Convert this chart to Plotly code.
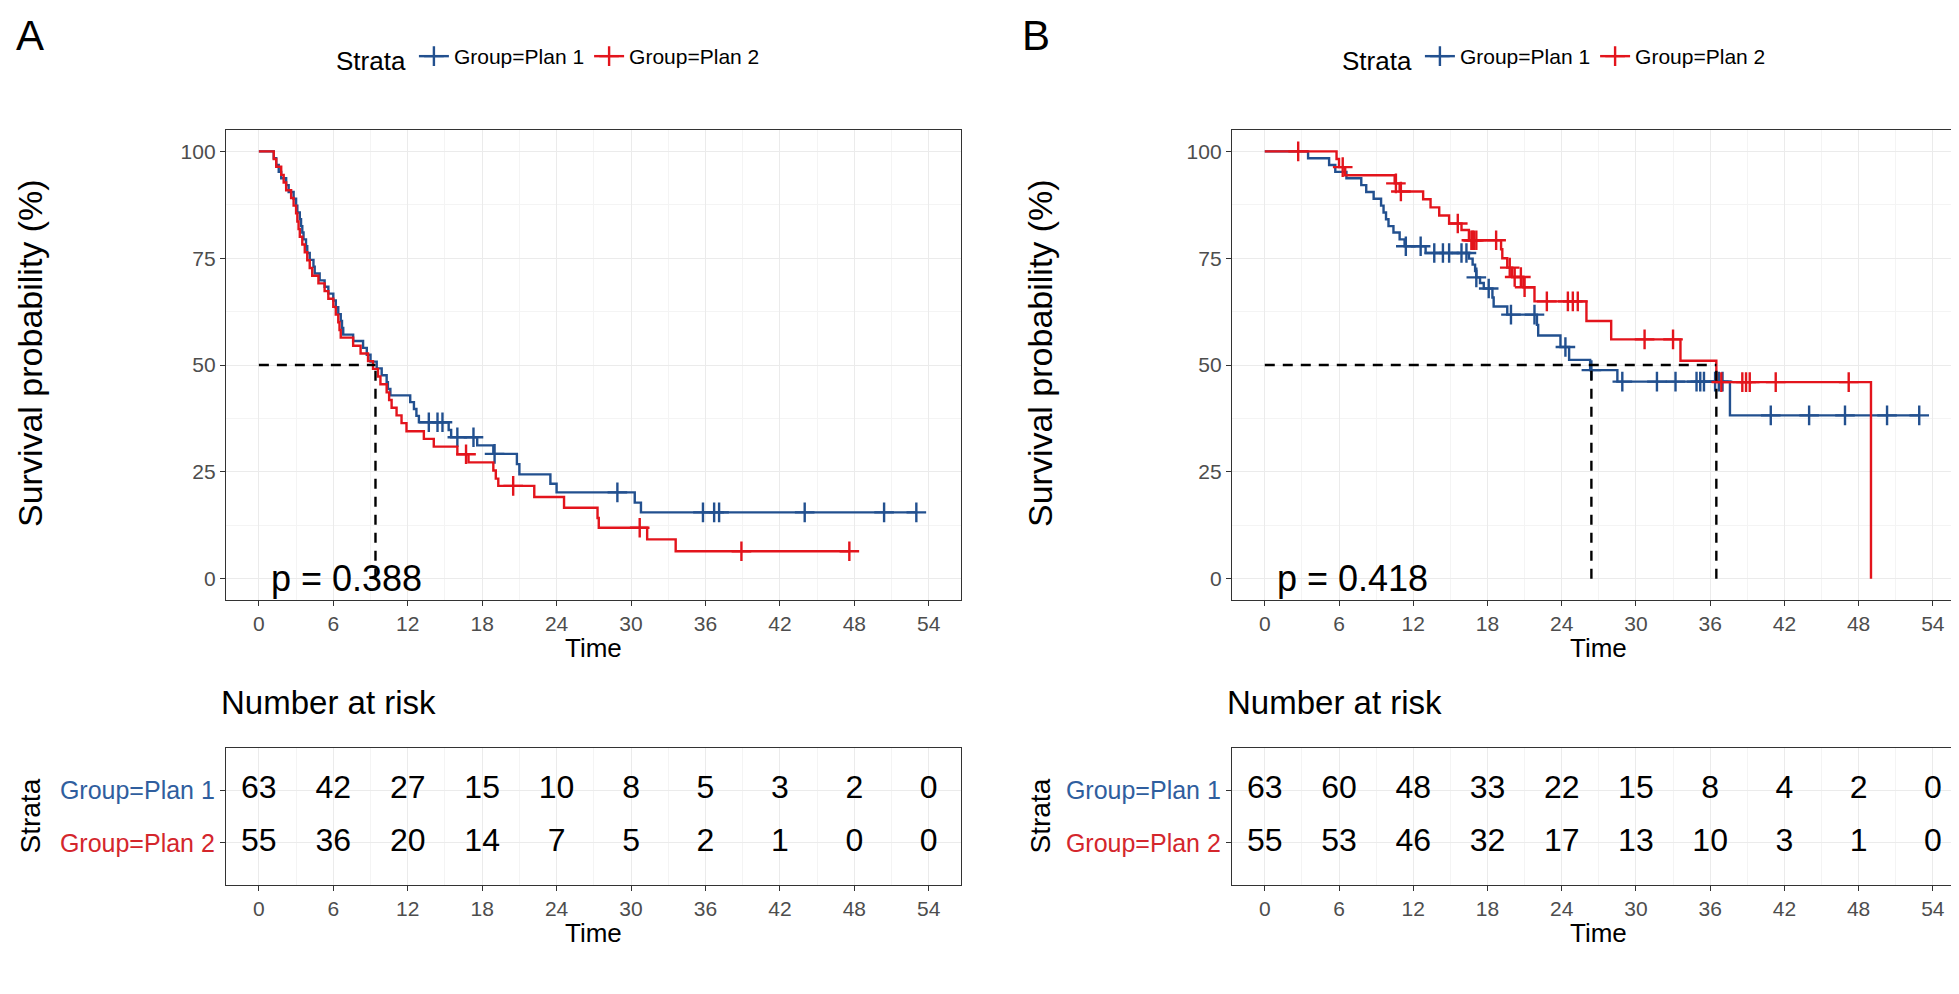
import plotly.graph_objects as go

# ---- data (time in months, survival in %) ----
time_ticks = [0, 6, 12, 18, 24, 30, 36, 42, 48, 54]
strata = ["Group=Plan 1", "Group=Plan 2"]

# Panel A
a_plan1_time = [0, 1.2, 1.4, 1.6, 1.8, 2.2, 2.4, 2.8, 3.0, 3.1, 3.3, 3.4, 3.5, 3.6, 3.8, 3.9,
                4.1, 4.4, 4.5, 4.9, 5.3, 5.6, 6.0, 6.2, 6.4, 6.6, 6.7, 6.8, 7.6, 8.4, 8.7,
                9.0, 9.5, 9.9, 10.3, 10.4, 10.6, 12.2, 12.5, 12.7, 12.9, 15.3, 15.5, 17.6,
                18.9, 20.8, 21.0, 23.5, 24.0, 30.3, 30.8, 53.0]
a_plan1_surv = [100, 98.4, 96.8, 95.2, 93.7, 92.1, 90.5, 88.9, 87.3, 85.7, 84.1, 82.5, 81.0,
                79.4, 77.8, 76.2, 74.6, 73.0, 71.4, 69.8, 68.3, 66.7, 65.1, 63.5, 61.9, 60.3,
                58.7, 57.1, 55.6, 54.0, 52.4, 50.8, 49.2, 47.6, 46.0, 44.4, 42.9, 41.3, 39.7,
                38.1, 36.6, 34.8, 33.1, 31.2, 29.2, 26.8, 24.4, 22.2, 20.2, 17.8, 15.5, 15.5]
a_plan1_censor = [13.7, 14.4, 14.8, 16.0, 17.3, 19.0, 28.9, 35.8, 36.7, 37.1, 44.0, 50.4, 53.0]

a_plan2_time = [0, 1.2, 1.4, 1.8, 2.0, 2.2, 2.6, 2.8, 3.0, 3.1, 3.2, 3.3, 3.5, 3.7, 3.9, 4.1,
                4.3, 4.8, 5.3, 5.6, 6.0, 6.2, 6.4, 6.5, 6.6, 7.6, 8.2, 8.8, 9.2, 9.6, 9.8,
                10.3, 10.5, 10.7, 11.1, 11.5, 11.9, 13.3, 14.1, 16.0, 16.9, 18.9, 19.1, 19.3,
                22.2, 24.6, 27.3, 27.4, 31.3, 33.6, 47.6]
a_plan2_surv = [100, 98.2, 96.4, 94.5, 92.7, 90.9, 89.1, 87.3, 85.5, 83.6, 81.8, 80.0, 78.2,
                76.4, 74.5, 72.7, 70.9, 69.1, 67.3, 65.5, 63.6, 61.8, 60.0, 58.2, 56.4, 54.5,
                52.7, 50.9, 49.1, 47.3, 45.5, 43.6, 41.8, 40.0, 38.2, 36.4, 34.5, 32.7, 30.9,
                29.1, 27.2, 25.3, 23.4, 21.7, 19.1, 16.6, 14.2, 11.9, 9.2, 6.4, 6.4]
a_plan2_censor = [16.7, 20.5, 30.7, 38.9, 47.6]

a_risk_plan1 = [63, 42, 27, 15, 10, 8, 5, 3, 2, 0]
a_risk_plan2 = [55, 36, 20, 14, 7, 5, 2, 1, 0, 0]
a_median = [9.4]
a_pval = "p = 0.388"

# Panel B
b_plan1_time = [0, 3.5, 5.2, 5.7, 6.6, 7.8, 8.2, 8.8, 9.4, 9.6, 9.8, 10.0, 10.4, 10.9, 11.3,
                13.0, 16.5, 16.8, 17.0, 17.1, 17.4, 17.7, 18.4, 18.5, 19.6, 22.0, 22.1, 23.9,
                24.6, 26.3, 28.5, 37.6, 52.9]
b_plan1_surv = [100, 98.4, 96.8, 95.2, 93.7, 92.1, 90.5, 88.9, 87.3, 85.7, 84.1, 82.5, 81.0,
                79.4, 77.8, 76.2, 74.9, 73.5, 72.0, 70.5, 69.2, 67.9, 65.8, 63.7, 61.8, 59.4,
                56.9, 54.2, 51.2, 48.8, 46.1, 38.2, 38.2]
b_plan1_censor = [11.4, 12.6, 13.7, 14.4, 14.9, 15.9, 16.3, 17.1, 18.1, 19.9, 21.8, 24.3, 26.4,
                  28.9, 31.7, 33.2, 34.9, 35.2, 35.5, 36.4, 36.7, 37.0, 40.9, 44.0, 46.9,
                  50.3, 52.9]

b_plan2_time = [0, 5.8, 6.0, 6.5, 10.5, 10.9, 12.8, 13.4, 14.1, 14.9, 15.9, 16.5, 19.1, 19.2,
                19.6, 20.0, 20.9, 21.8, 26.0, 28.0, 33.6, 36.5, 49.0]
b_plan2_surv = [100, 98.2, 96.3, 94.4, 92.5, 90.6, 88.8, 86.9, 85.0, 83.1, 81.6, 79.2, 77.1,
                75.0, 72.8, 70.6, 68.2, 64.9, 60.3, 56.0, 51.0, 46.0, 0]
b_plan2_censor = [2.7, 6.3, 10.6, 11.0, 15.6, 16.7, 16.8, 16.9, 17.1, 18.7, 19.8, 20.2, 20.7,
                  21.0, 22.8, 24.5, 24.9, 25.3, 30.7, 33.0, 36.9, 38.6, 38.9, 39.2, 41.3, 47.2]

b_risk_plan1 = [63, 60, 48, 33, 22, 15, 8, 4, 2, 0]
b_risk_plan2 = [55, 53, 46, 32, 17, 13, 10, 3, 1, 0]
b_median = [26.4, 36.5]
b_pval = "p = 0.418"

# ---- style ----
W, H = 1959, 994
BLUE = "#22508F"
RED = "#E3141C"
BLUE_TXT = "#2F5E9E"
RED_TXT = "#D4262C"
FONT = "Liberation Sans, Arial, sans-serif"
GRID = "#EBEBEB"


def fx(p):
    return p / W


def fy(p):
    return 1 - p / H


def surv_at(times, survs, t):
    s = survs[0]
    for ti, si in zip(times, survs):
        if ti <= t:
            s = si
    return s


panels = [
    dict(letter="A", left=218, right=953, main=("x", "y"), table=("x2", "y2"), legend="legend",
         curves=[(a_plan1_time, a_plan1_surv, a_plan1_censor, BLUE, strata[0]),
                 (a_plan2_time, a_plan2_surv, a_plan2_censor, RED, strata[1])],
         risk=[a_risk_plan1, a_risk_plan2], median=a_median, pval=a_pval,
         letter_x=22, ytitle_x=22),
    dict(letter="B", left=1224, right=1957, main=("x3", "y3"), table=("x4", "y4"), legend="legend2",
         curves=[(b_plan1_time, b_plan1_surv, b_plan1_censor, BLUE, strata[0]),
                 (b_plan2_time, b_plan2_surv, b_plan2_censor, RED, strata[1])],
         risk=[b_risk_plan1, b_risk_plan2], median=b_median, pval=b_pval,
         letter_x=1028, ytitle_x=1032),
]

MAIN_TOP, MAIN_BOT = 122, 592
TAB_TOP, TAB_BOT = 740, 877

fig = go.Figure()
annotations = []
layout = {}


def note(text, x, y, size, **kw):
    d = dict(text=text, x=x, y=y, xref="paper", yref="paper", showarrow=False,
             xanchor="center", yanchor="middle", font=dict(size=size, color="black", family=FONT))
    d.update(kw)
    return d


for k, p in enumerate(panels):
    xm, ym = p["main"]
    xt, yt = p["table"]

    # survival curves
    for times, survs, censors, color, name in p["curves"]:
        fig.add_trace(go.Scatter(x=times, y=survs, mode="lines", line=dict(color=color, width=2.4, shape="hv"),
                                 xaxis=xm, yaxis=ym, showlegend=False, hoverinfo="skip"))
        fig.add_trace(go.Scatter(x=censors, y=[surv_at(times, survs, c) for c in censors], mode="markers",
                                 marker=dict(symbol="cross-thin-open", size=14, color=color,
                                             line=dict(color=color, width=2.4)),
                                 xaxis=xm, yaxis=ym, showlegend=False, hoverinfo="skip"))
        fig.add_trace(go.Scatter(x=[None], y=[None], mode="lines+markers", name=name, legend=p["legend"],
                                 line=dict(color=color, width=2.4),
                                 marker=dict(symbol="cross-thin-open", size=14, color=color,
                                             line=dict(color=color, width=2.4)),
                                 xaxis=xm, yaxis=ym))

    # median lines
    mx, my = [0, max(p["median"])], [50, 50]
    for m in p["median"]:
        mx += [None, m, m]
        my += [None, 0, 50]
    fig.add_trace(go.Scatter(x=mx, y=my, mode="lines", line=dict(color="black", width=2.4, dash="10px,8px"),
                             xaxis=xm, yaxis=ym, showlegend=False, hoverinfo="skip"))

    # risk table
    for vals, yv in zip(p["risk"], [2, 1]):
        fig.add_trace(go.Scatter(x=time_ticks, y=[yv] * len(time_ticks), mode="text",
                                 text=[str(v) for v in vals],
                                 textfont=dict(size=32, color="black", family=FONT),
                                 xaxis=xt, yaxis=yt, showlegend=False, hoverinfo="skip"))

    dom_x = [fx(p["left"]), fx(p["right"])]
    common_x = dict(domain=dom_x, range=[-2.65, 56.6], tickvals=time_ticks, showgrid=True,
                    gridcolor=GRID, gridwidth=1.3, zeroline=False, showline=True, mirror=True,
                    linecolor="#333333", linewidth=1.3, ticks="outside", ticklen=5, tickwidth=1.3,
                    tickcolor="#333333", tickfont=dict(size=21, color="#4D4D4D", family=FONT),
                    minor=dict(tickvals=[3, 9, 15, 21, 27, 33, 39, 45, 51], showgrid=True,
                               gridcolor="#F4F4F4", gridwidth=0.7, ticks=""))
    sx = "" if xm == "x" else xm[1:]
    sxt = xt[1:]
    layout["xaxis" + sx] = dict(common_x, anchor=ym)
    layout["xaxis" + sxt] = dict(common_x, anchor=yt)

    layout["yaxis" + sx] = dict(domain=[fy(MAIN_BOT), fy(MAIN_TOP)], range=[-5, 105], anchor=xm,
                                tickvals=[0, 25, 50, 75, 100], showgrid=True, gridcolor=GRID, gridwidth=1.3,
                                zeroline=False, showline=True, mirror=True, linecolor="#333333",
                                linewidth=1.3, ticks="outside", ticklen=5, tickwidth=1.3, tickcolor="#333333",
                                tickfont=dict(size=21, color="#4D4D4D", family=FONT),
                                minor=dict(tickvals=[12.5, 37.5, 62.5, 87.5], showgrid=True,
                                           gridcolor="#F4F4F4", gridwidth=0.7, ticks=""))
    layout["yaxis" + sxt] = dict(domain=[fy(TAB_BOT), fy(TAB_TOP)], range=[0.2, 2.8], anchor=xt,
                                 tickvals=[2, 1],
                                 ticktext=[f"<span style='color:{BLUE_TXT}'>{strata[0]}</span>",
                                           f"<span style='color:{RED_TXT}'>{strata[1]}</span>"],
                                 showgrid=True, gridcolor=GRID, gridwidth=1.3, zeroline=False,
                                 showline=True, mirror=True, linecolor="#333333", linewidth=1.3,
                                 ticks="outside", ticklen=5, tickwidth=1.3, tickcolor="#333333",
                                 tickfont=dict(size=25, family=FONT))

    cx = (p["left"] + p["right"]) / 2
    layout[p["legend"]] = dict(title=dict(text="Strata", font=dict(size=26, color="black", family=FONT)),
                               orientation="h", x=fx(p["left"] + 108), xanchor="left", y=fy(50),
                               yanchor="middle", font=dict(size=21, color="black", family=FONT),
                               bgcolor="rgba(0,0,0,0)", itemwidth=30)

    annotations += [
        note(p["letter"], fx(p["letter_x"]), fy(28), 42),
        note("Survival probability (%)", fx(p["ytitle_x"]), fy(345), 34, textangle=-90),
        note("Strata", fx(p["ytitle_x"]), fy((TAB_TOP + TAB_BOT) / 2), 28, textangle=-90),
        note("Time", fx(cx), fy(640), 26),
        note("Time", fx(cx), fy(925), 26),
        note("Number at risk", fx(p["left"] - 7), fy(694), 33, xanchor="left"),
        dict(text=p["pval"], x=0.8, y=0, xanchor="left", yanchor="middle", xref=xm, yref=ym,
             showarrow=False, font=dict(size=36, color="black", family=FONT)),
    ]

fig.update_layout(width=W, height=H, margin=dict(l=0, r=0, t=0, b=0), plot_bgcolor="white",
                  paper_bgcolor="white", font=dict(family=FONT), annotations=annotations, **layout)

fig.write_html("out.html")
